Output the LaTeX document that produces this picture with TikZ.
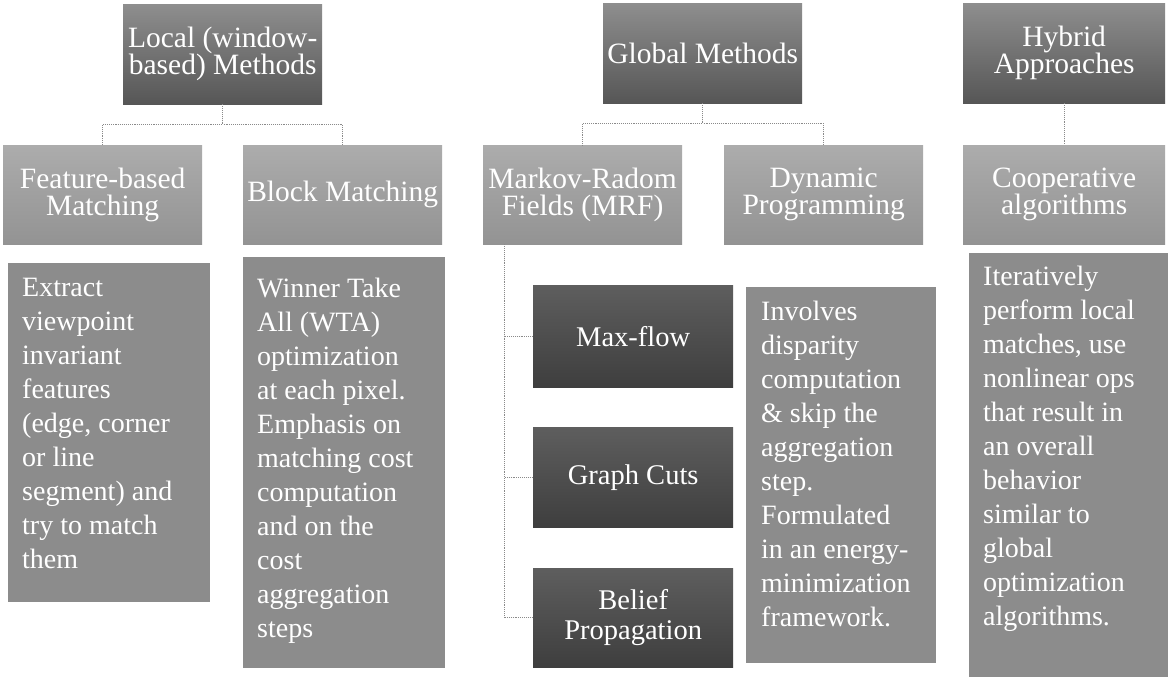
\documentclass[tikz,border=0pt]{standalone}
\usepackage{fontspec}
\setmainfont{Liberation Serif}
\definecolor{hdtop}{HTML}{8E8E8E}
\definecolor{hdbot}{HTML}{565656}
\definecolor{sbtop}{HTML}{ACACAC}
\definecolor{sbbot}{HTML}{939393}
\definecolor{altop}{HTML}{5E5E5E}
\definecolor{albot}{HTML}{3E3E3E}
\definecolor{notefill}{HTML}{8C8C8C}
\definecolor{connc}{HTML}{8A8A8A}
\tikzset{
  cell/.style={anchor=north west, inner sep=0pt, text=white, align=center,
               font=\fontsize{29.5}{27}\selectfont},
  head/.style={cell, top color=hdtop, bottom color=hdbot},
  sub/.style={cell, top color=sbtop, bottom color=sbbot},
  algo/.style={cell, top color=altop, bottom color=albot,
               font=\fontsize{28.5}{30}\selectfont},
  note/.style={anchor=north west, inner sep=0pt, fill=notefill},
  notetext/.style={anchor=north west, inner sep=0pt, text=white, align=left,
                   font=\fontsize{28}{34}\selectfont},
  conn/.style={draw=connc, densely dotted, line width=0.9pt}
}
\newcommand{\firstline}{\rule{0pt}{33pt}}
\begin{document}
\begin{tikzpicture}[x=1pt,y=-1pt]
\useasboundingbox[fill=white] (0,0) rectangle (1170,680);

% top level categories
\node[head, minimum width=199pt, minimum height=100pt] (local)  at (123,4) {Local (window-\\based) Methods};
\node[head, minimum width=199pt, minimum height=100pt] (global) at (603,3) {Global Methods};
\node[head, minimum width=202pt, minimum height=100pt] (hybrid) at (963,3) {Hybrid\\Approaches};

% second level
\node[sub, minimum width=199pt, minimum height=99pt] (feat)  at (3,145)   {Feature-based\\Matching};
\node[sub, minimum width=199pt, minimum height=99pt] (block) at (243,145) {Block Matching};
\node[sub, minimum width=199pt, minimum height=99pt] (mrf)   at (483,145) {Markov-Radom\\Fields (MRF)};
\node[sub, minimum width=199pt, minimum height=99pt] (dyn)   at (724,145) {Dynamic\\Programming};
\node[sub, minimum width=202pt, minimum height=99pt] (coop)  at (963,145) {Cooperative\\algorithms};

% MRF solvers
\node[algo, minimum width=200pt, minimum height=102pt] (maxflow) at (533,285) {Max-flow};
\node[algo, minimum width=200pt, minimum height=100pt] (gcuts)   at (533,427) {Graph Cuts};
\node[algo, minimum width=200pt, minimum height=99pt]  (belief)  at (533,568) {Belief\\Propagation};

% description panels
\node[note, minimum width=202pt, minimum height=339pt] (extract)  at (8,263)   {};
\node[note, minimum width=202pt, minimum height=411pt] (winner)   at (243,257) {};
\node[note, minimum width=190pt, minimum height=376pt] (involves) at (746,287) {};
\node[note, minimum width=199pt, minimum height=424pt] (iter)     at (969,253) {};

\node[notetext] (extract-t) at ([xshift=14pt]extract.north west)
  {\firstline Extract\\viewpoint\\invariant\\features\\(edge, corner\\or line\\segment) and\\try to match\\them};
\node[notetext] (winner-t) at ([xshift=14pt]winner.north west)
  {\rule{0pt}{40pt}Winner Take\\All (WTA)\\optimization\\at each pixel.\\Emphasis on\\matching cost\\computation\\and on the\\cost\\aggregation\\steps};
\node[notetext] (involves-t) at ([xshift=15pt]involves.north west)
  {\firstline Involves\\disparity\\computation\\\& skip the\\aggregation\\step.\\Formulated\\in an energy-\\minimization\\framework.};
\node[notetext] (iter-t) at ([xshift=14pt]iter.north west)
  {\rule{0pt}{32pt}Iteratively\\perform local\\matches, use\\nonlinear ops\\that result in\\an overall\\behavior\\similar to\\global\\optimization\\algorithms.};

% tree connectors
\draw[conn] (local.south) -- ++(0,20) -| (feat.north);
\draw[conn] (local.south) -- ++(0,20) -| (block.north);
\draw[conn] (global.south) -- ++(0,20) -| (mrf.north);
\draw[conn] (global.south) -- ++(0,20) -| (dyn.north);
\draw[conn] (hybrid.south) -- (coop.north);
\coordinate (mrfstem) at ([xshift=21pt]mrf.south west);
\draw[conn] (mrfstem) |- (maxflow.west);
\draw[conn] (mrfstem) |- (gcuts.west);
\draw[conn] (mrfstem) |- (belief.west);
\end{tikzpicture}
\end{document}
